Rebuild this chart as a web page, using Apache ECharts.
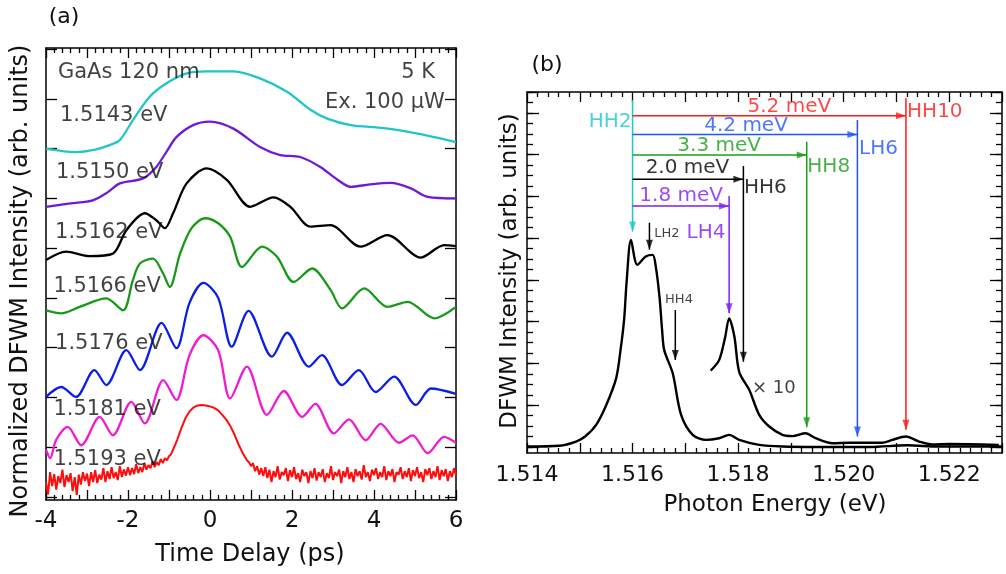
<!DOCTYPE html>
<html><head><meta charset="utf-8">
<script src="https://cdn.jsdelivr.net/npm/echarts@6/dist/echarts.min.js"></script>
<style>html,body{margin:0;padding:0;background:#fff}#c{width:1006px;height:574px}</style>
</head><body><div id="c"></div><script>
// ---------- Panel (a) data: time delay (ps) vs offset normalized DFWM ----------
const traceLabels = ['1.5143 eV','1.5150 eV','1.5162 eV','1.5166 eV','1.5176 eV','1.5181 eV','1.5193 eV'];
const trace15143 = [[-4,7.0],[-3.6,6.95],[-3.27,6.93],[-2.8,6.98],[-2.45,7.07],[-2.2,7.17],[-1.88,7.57],[-1.47,8.04],[-1.06,8.31],[-0.57,8.51],[-0.08,8.55],[0.57,8.55],[1.22,8.41],[1.88,8.14],[2.45,7.78],[2.86,7.6],[3.43,7.47],[4.24,7.41],[5.06,7.3],[6,7.13]];
const trace15150 = [[-4,5.83],[-3.4,5.9],[-2.86,5.96],[-2.5,6.12],[-2.2,6.3],[-1.63,6.4],[-1.31,6.63],[-1.05,6.95],[-0.82,7.23],[-0.41,7.47],[0,7.54],[0.57,7.4],[1.22,7.03],[1.71,6.87],[2.2,6.83],[2.69,6.63],[3.1,6.38],[3.43,6.23],[3.9,6.28],[4.41,6.31],[4.9,6.2],[5.31,6.03],[6,6.0]];
const trace15162 = [[-4,4.76],[-3.51,4.93],[-2.94,4.84],[-2.37,4.89],[-2.04,5.36],[-1.59,5.70],[-1.31,5.56],[-1.1,5.40],[-0.9,5.70],[-0.57,6.30],[-0.08,6.60],[0.41,6.37],[0.98,5.83],[1.55,6.02],[1.96,5.83],[2.45,5.43],[2.94,5.46],[3.67,5.03],[4.33,5.26],[5.14,4.81],[5.71,5.06],[6,5.04]];
const trace15166 = [[-4,3.75],[-3.63,3.69],[-3.18,3.82],[-2.53,3.99],[-2.12,3.75],[-1.88,4.36],[-1.71,4.69],[-1.39,4.79],[-1.15,4.5],[-0.98,4.22],[-0.73,4.89],[-0.45,5.4],[-0.12,5.6],[0.2,5.5],[0.49,5.23],[0.78,4.62],[1.27,5.03],[1.63,4.83],[2.04,4.32],[2.49,4.59],[2.94,4.16],[3.22,3.79],[3.76,4.19],[4.33,3.82],[4.82,3.92],[5.47,3.59],[6,3.82]];
const trace15176 = [[-4,2.01],[-3.63,2.21],[-3.27,2.01],[-2.82,2.55],[-2.53,2.25],[-2.04,2.95],[-1.71,2.55],[-1.18,3.5],[-0.82,2.99],[-0.5,3.9],[-0.16,4.3],[0.2,4.0],[0.53,3.02],[0.94,3.74],[1.51,2.82],[1.88,3.3],[2.41,2.62],[2.73,2.85],[3.22,2.25],[3.63,2.55],[4.04,2.11],[4.49,2.42],[5.02,1.85],[5.39,2.18],[6,2.07]];
const trace15181 = [[-4,0.95],[-3.9,0.78],[-3.75,1.15],[-3.47,1.41],[-3.14,1.04],[-2.69,1.61],[-2.37,1.24],[-1.92,1.91],[-1.59,1.48],[-1.14,2.35],[-0.82,1.95],[-0.5,2.85],[-0.16,3.25],[0.2,2.95],[0.49,1.98],[0.9,2.62],[1.39,1.65],[1.8,2.13],[2.25,1.61],[2.57,1.87],[3.02,1.28],[3.39,1.56],[3.8,1.14],[4.16,1.47],[4.61,1.09],[4.94,1.24],[5.31,0.88],[5.71,1.21],[6,1.09]];
const trace15193 = [[-4.00,0.30],[-3.95,0.05],[-3.90,0.50],[-3.85,0.22],[-3.80,0.46],[-3.75,0.15],[-3.70,0.42],[-3.65,0.28],[-3.60,0.55],[-3.55,0.20],[-3.50,0.44],[-3.45,0.30],[-3.40,0.48],[-3.35,0.12],[-3.30,0.40],[-3.25,0.04],[-3.20,0.45],[-3.15,0.25],[-3.10,0.50],[-3.05,0.32],[-3.00,0.47],[-2.95,0.22],[-2.90,0.50],[-2.85,0.30],[-2.80,0.54],[-2.75,0.28],[-2.70,0.45],[-2.65,0.35],[-2.60,0.58],[-2.55,0.30],[-2.50,0.52],[-2.45,0.36],[-2.40,0.60],[-2.35,0.38],[-2.30,0.50],[-2.25,0.34],[-2.20,0.62],[-2.15,0.40],[-2.10,0.55],[-2.05,0.43],[-2.00,0.60],[-1.95,0.44],[-1.90,0.58],[-1.85,0.46],[-1.80,0.66],[-1.75,0.48],[-1.70,0.60],[-1.65,0.50],[-1.60,0.68],[-1.55,0.55],[-1.50,0.64],[-1.45,0.58],[-1.40,0.72],[-1.35,0.60],[-1.30,0.70],[-1.25,0.64],[-1.20,0.76],[-1.15,0.68],[-1.10,0.78],[-1.05,0.74],[-1.00,0.82],[-0.95,0.86],[-0.90,0.95],[-0.80,1.15],[-0.70,1.38],[-0.60,1.58],[-0.50,1.72],[-0.40,1.80],[-0.30,1.84],[-0.20,1.85],[-0.10,1.84],[0.00,1.82],[0.10,1.79],[0.20,1.74],[0.30,1.65],[0.40,1.55],[0.50,1.42],[0.60,1.25],[0.70,1.05],[0.80,0.88],[0.90,0.74],[0.95,0.70],[1.00,0.62],[1.05,0.68],[1.10,0.52],[1.15,0.62],[1.20,0.45],[1.25,0.58],
[1.30,0.42],[1.35,0.60],[1.40,0.38],[1.45,0.55],[1.50,0.30],[1.55,0.52],[1.60,0.40],[1.65,0.62],[1.70,0.35],[1.75,0.50],[1.80,0.44],[1.85,0.58],[1.90,0.32],[1.95,0.54],[2.00,0.40],[2.05,0.60],[2.10,0.36],[2.15,0.48],[2.20,0.30],[2.25,0.55],[2.30,0.42],[2.35,0.50],[2.40,0.28],[2.45,0.52],[2.50,0.38],[2.55,0.58],[2.60,0.33],[2.65,0.50],[2.70,0.40],[2.75,0.56],[2.80,0.30],[2.85,0.48],[2.90,0.38],[2.95,0.62],[3.00,0.34],[3.05,0.50],[3.10,0.42],[3.15,0.55],[3.20,0.28],[3.25,0.52],[3.30,0.40],[3.35,0.60],[3.40,0.36],[3.45,0.50],[3.50,0.30],[3.55,0.56],[3.60,0.42],[3.65,0.52],[3.70,0.35],[3.75,0.64],[3.80,0.40],[3.85,0.50],[3.90,0.32],[3.95,0.55],[4.00,0.44],[4.05,0.58],[4.10,0.36],[4.15,0.50],[4.20,0.40],[4.25,0.62],[4.30,0.34],[4.35,0.52],[4.40,0.42],[4.45,0.56],[4.50,0.30],[4.55,0.50],[4.60,0.45],[4.65,0.60],[4.70,0.36],[4.75,0.52],[4.80,0.40],[4.85,0.58],[4.90,0.32],[4.95,0.54],[5.00,0.42],[5.05,0.60],[5.10,0.38],[5.15,0.50],[5.20,0.30],[5.25,0.56],[5.30,0.44],[5.35,0.58],[5.40,0.36],[5.45,0.52],[5.50,0.40],[5.55,0.62],[5.60,0.34],[5.65,0.54],[5.70,0.42],[5.75,0.56],[5.80,0.32],[5.85,0.52],[5.90,0.40],[5.95,0.58],[6.00,0.44]];
const timeTicks = [-4,-2,0,2,4,6];

// ---------- Panel (b) data: photon energy (eV) vs DFWM intensity ----------
const spectrum = [[1.5140,0.01],[1.51461,0.03],[1.51493,0.13],[1.5151,0.25],[1.51531,0.53],[1.5155,1.0],[1.51569,1.65],[1.51577,2.3],[1.51584,3.05],[1.51589,4.0],[1.51597,4.96],[1.51609,4.36],[1.51625,4.56],[1.51638,4.6],[1.51644,4.32],[1.51651,3.6],[1.51656,2.8],[1.5166,2.32],[1.51676,1.77],[1.51692,0.77],[1.51714,0.29],[1.51739,0.17],[1.51764,0.21],[1.51783,0.29],[1.51802,0.17],[1.5184,0.05],[1.51884,0.01],[1.5195,0.0],[1.5205,0.0],[1.5212,0.04],[1.5218,0.01],[1.523,0.01]];
const spectrumX10 = [[1.51748,1.83],[1.51764,2.08],[1.51775,2.6],[1.51783,3.08],[1.51793,2.64],[1.51802,1.80],[1.51821,1.37],[1.5184,0.77],[1.51859,0.49],[1.51884,0.29],[1.51903,0.26],[1.51928,0.33],[1.51947,0.21],[1.51979,0.09],[1.5201,0.10],[1.52073,0.10],[1.52092,0.17],[1.52118,0.25],[1.52143,0.13],[1.52168,0.06],[1.522,0.07],[1.52294,0.05]];
const hh2Energy = 1.516;
const lh2Energy = 1.51632;
const hh4Energy = 1.51681;
const transitionNames = ['HH10','LH6','HH8','HH6','LH4'];
const transitionEnergies = [1.52118,1.52026,1.5193,1.5181,1.51783];
const splittings = ['5.2 meV','4.2 meV','3.3 meV','2.0 meV','1.8 meV'];
const energyLabels = ['1.514','1.516','1.518','1.520','1.522'];

// ---------- styles ----------
const FONT = 'DejaVu Sans';
const TXT = '#111111';
const traceColors = ['#1ec6c8','#7019d6','#000000','#189a18','#0a1ee8','#f01ad2','#ff0d0d'];
const transColors = ['#ff1a1a','#1f55ff','#1a9c1a','#000000','#7f1ff0'];
const hh2Color = '#1cc8cc';
const traces = [trace15143,trace15150,trace15162,trace15166,trace15176,trace15181,trace15193];

const frame = {show:true, onZero:false, lineStyle:{color:'#000', width:1.5}};
function xAx(grid, pos, min, max, interval, minorSplit, labelFn, fs, margin) {
  return {gridIndex:grid, type:'value', position:pos, min, max, interval,
    axisLine:frame,
    axisTick:{show:true, inside:true, length:10, lineStyle:{color:'#000', width:1.3}},
    minorTick:{show:true, splitNumber:minorSplit, length:5, lineStyle:{color:'#000', width:1.3}},
    axisLabel: labelFn ? {show:true, formatter:labelFn, fontFamily:FONT, fontSize:fs, color:TXT, margin} : {show:false},
    splitLine:{show:false}, minorSplitLine:{show:false}};
}
function yFrame(grid, pos, min, max) {
  return {gridIndex:grid, type:'value', position:pos, min, max, axisLine:frame,
    axisTick:{show:false}, axisLabel:{show:false}, splitLine:{show:false}};
}
function yTicks(grid, pos, min, max, interval, len) {
  return {gridIndex:grid, type:'value', position:pos, min, max, interval,
    axisLine:{show:false, onZero:false},
    axisTick:{show:true, inside:true, length:len, lineStyle:{color:'#000', width:1.3}},
    axisLabel:{show:false}, splitLine:{show:false}};
}
function annot(xi, yi, items) {
  return {type:'scatter', xAxisIndex:xi, yAxisIndex:yi, symbolSize:0.1, silent:true, z:5,
    itemStyle:{color:'rgba(0,0,0,0)'},
    data: items.map(it => ({value:[it.x, it.y], label:{show:true, formatter:it.text,
      position: it.align === 'right' ? 'left' : (it.align === 'center' ? 'inside' : 'right'),
      distance:0, color:it.color || TXT, fontFamily:FONT, fontSize:it.size}}))};
}

const series = [];
// panel (a) traces
traces.forEach((d, i) => {
  series.push({type:'line', xAxisIndex:0, yAxisIndex:0, data:d, showSymbol:false,
    smooth: i === 6 ? false : 0.3, z:3,
    lineStyle:{color:traceColors[i], width: i === 6 ? 2 : 2.3}, itemStyle:{color:traceColors[i]}});
});
const labelAnchors = [[-3.66,7.67],[-3.76,6.51],[-3.78,5.32],[-3.82,4.22],[-3.78,3.09],[-3.82,1.75],[-3.82,0.76]];
series.push(annot(0,0, traceLabels.map((t,i)=>({x:labelAnchors[i][0], y:labelAnchors[i][1], text:t, size:21}))
  .concat([
    {x:-3.71, y:8.53, text:'GaAs 120 nm', size:21},
    {x:5.49, y:8.53, text:'5 K', size:21, align:'right'},
    {x:5.73, y:7.93, text:'Ex. 100 \u03bcW', size:21, align:'right'}
  ])));

// panel (b) spectra
series.push({type:'line', xAxisIndex:3, yAxisIndex:4, data:spectrum, showSymbol:false, smooth:0.3, z:3,
  lineStyle:{color:'#000', width:2.4}});
series.push({type:'line', xAxisIndex:3, yAxisIndex:4, data:spectrumX10, showSymbol:false, smooth:0.3, z:3,
  lineStyle:{color:'#000', width:2.4}});

// arrows
const rowY = [7.93,7.48,6.99,6.41,5.77];
const vTop = [8.35,7.83,7.31,6.73,6.01];
const vTip = [0.41,0.25,0.47,2.04,3.20];
const heads = [];
function seg(p1, p2, color) {
  series.push({type:'line', xAxisIndex:3, yAxisIndex:4, data:[p1,p2], showSymbol:false, silent:true, z:4,
    lineStyle:{color, width:1.5}});
}
seg([hh2Energy,8.31],[hh2Energy,5.16],hh2Color);
heads.push({value:[hh2Energy,5.16], symbolRotate:180, symbolOffset:[0,-5], itemStyle:{color:hh2Color}});
transitionEnergies.forEach((e,i) => {
  seg([hh2Energy,rowY[i]],[e,rowY[i]],transColors[i]);
  heads.push({value:[e,rowY[i]], symbolRotate:-90, symbolOffset:[-5,0], itemStyle:{color:transColors[i]}});
  seg([e,vTop[i]],[e,vTip[i]],transColors[i]);
  heads.push({value:[e,vTip[i]], symbolRotate:180, symbolOffset:[0,-5], itemStyle:{color:transColors[i]}});
});
seg([lh2Energy,5.37],[lh2Energy,4.72],'#000');
heads.push({value:[lh2Energy,4.72], symbolRotate:180, symbolOffset:[0,-5], itemStyle:{color:'#000'}});
seg([hh4Energy,3.28],[hh4Energy,2.08],'#000');
heads.push({value:[hh4Energy,2.08], symbolRotate:180, symbolOffset:[0,-5], itemStyle:{color:'#000'}});
series.push({type:'scatter', xAxisIndex:3, yAxisIndex:4, symbol:'triangle', symbolSize:[7,10], silent:true, z:6, data:heads});

// panel (b) annotations
const splitAnchors = [[1.51897,8.15],[1.51815,7.69],[1.51764,7.21],[1.51704,6.68],[1.51692,6.01]];
const nameAnchors = [[1.52120,8.03,'left'],[1.52029,7.15,'left'],[1.51931,6.70,'left'],[1.51811,6.20,'left'],[1.51776,5.13,'right']];
const bItems = [{x:1.51598, y:7.79, text:'HH2', color:hh2Color, size:20, align:'right'}];
splittings.forEach((s,i)=>bItems.push({x:splitAnchors[i][0], y:splitAnchors[i][1], text:s, color:transColors[i], size:20, align:'center'}));
transitionNames.forEach((s,i)=>bItems.push({x:nameAnchors[i][0], y:nameAnchors[i][1], text:s, color:transColors[i], size:20, align:nameAnchors[i][2]}));
bItems.push({x:1.51641, y:5.10, text:'LH2', size:13});
bItems.push({x:1.51688, y:3.52, text:'HH4', size:13, align:'center'});
bItems.push({x:1.51826, y:1.41, text:'\u00d7 10', size:18});
series.push(annot(3,4,bItems));

function gtext(x, y, text, size, rot) {
  return {type:'text', x, y, rotation: rot || 0, silent:true,
    style:{text, font: size + 'px "' + FONT + '"', fill:TXT, align:'center', verticalAlign:'middle',
      textAlign:'center', textVerticalAlign:'middle'}};
}

const option = {
  animation:false,
  backgroundColor:'#fff',
  grid:[
    {left:46, top:48, width:410, height:452},
    {left:46, top:49, width:410, height:448},
    {left:527, top:92, width:475, height:361},
    {left:527, top:92, width:475, height:355}
  ],
  xAxis:[
    xAx(0,'bottom',-4,6,1,5, v => timeTicks.indexOf(v) >= 0 ? String(v) : '', 23, 10),
    xAx(0,'top',-4,6,1,5,null),
    {gridIndex:1, type:'value', min:-4, max:6, show:false},
    xAx(2,'bottom',1.514,1.523,0.001,5, v => { const s = v.toFixed(3); return energyLabels.indexOf(s) >= 0 ? s : ''; }, 22, 11),
    xAx(2,'top',1.514,1.523,0.001,5,null),
    {gridIndex:3, type:'value', min:1.514, max:1.523, show:false}
  ],
  yAxis:[
    yFrame(0,'left',-0.06,9.02),
    yFrame(0,'right',-0.06,9.02),
    yTicks(1,'left',0,9,1,11),
    yTicks(1,'right',0,9,1,11),
    yFrame(2,'left',-0.144,8.5),
    yFrame(2,'right',-0.144,8.5),
    yTicks(3,'left',0,8.5,1,12),
    yTicks(3,'right',0,8.5,1,12),
    yTicks(3,'left',0,8.5,0.25,6),
    yTicks(3,'right',0,8.5,0.25,6)
  ],
  series,
  graphic:[
    gtext(64,17,'(a)',22),
    gtext(547,65,'(b)',22),
    gtext(250,555,'Time Delay (ps)',24),
    gtext(21,281,'Normalized DFWM Intensity (arb. units)',24,Math.PI/2),
    gtext(775,505,'Photon Energy (eV)',23),
    gtext(510,271,'DFWM Intensity (arb. units)',23,Math.PI/2)
  ]
};
const chart = echarts.init(document.getElementById('c'), null, {renderer:'canvas'});
chart.setOption(option);
</script></body></html>
